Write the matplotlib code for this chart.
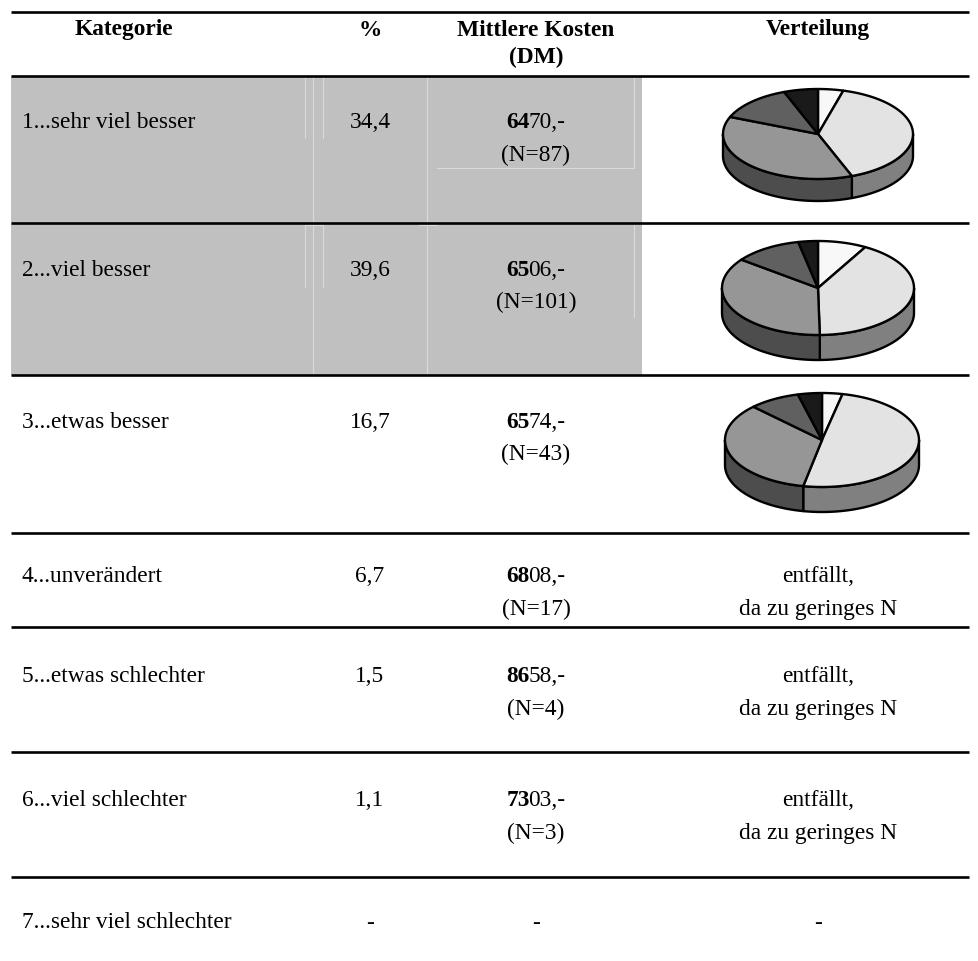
import matplotlib
matplotlib.use("Agg")
import matplotlib.pyplot as plt
import numpy as np
from matplotlib.patches import Polygon, Rectangle
from matplotlib.offsetbox import TextArea, HPacker, AnnotationBbox

plt.rcParams['font.family'] = ['Liberation Serif', 'DejaVu Serif']

# --- data ---
kategorien = ["1...sehr viel besser", "2...viel besser", "3...etwas besser",
              "4...unverändert", "5...etwas schlechter", "6...viel schlechter",
              "7...sehr viel schlechter"]
prozent = ["34,4", "39,6", "16,7", "6,7", "1,5", "1,1", "-"]
kosten = [6470, 6506, 6574, 6808, 8658, 7303, None]
anzahl = [87, 101, 43, 17, 4, 3, None]
header = ["Kategorie", "%", "Mittlere Kosten", "(DM)", "Verteilung"]

# distribution of the first three categories (shares in %)
verteilung = [
    [4.3, 39.9, 37.0, 13.0, 5.8],
    [8.2, 41.5, 35.6, 11.4, 3.3],
    [3.4, 49.7, 34.4, 8.5, 4.0],
]
top_colors = ["#f8f8f8", "#e3e3e3", "#969696", "#606060", "#1a1a1a"]
side_colors = ["#bcbcbc", "#808080", "#4d4d4d", "#333333", "#111111"]

# --- layout (pixel coordinates) ---
W, H = 979, 961
col_x = [22, 370, 536, 818]
row_lines = [12, 76, 223, 375, 533, 627, 752, 877]
row_y = [123, 270, 422, 577, 677, 801, 923]
line_gap = 32
pies = [(818, 134, 95, 45, 22), (818, 288, 96, 47, 25), (822, 440, 97, 47, 25)]
fs = 16.8

fig = plt.figure(figsize=(W / 100, H / 100), dpi=100)
ax = fig.add_axes([0, 0, 1, 1])
ax.set_xlim(0, W)
ax.set_ylim(H, 0)
ax.axis('off')

# gray background for first two rows
ax.add_patch(Rectangle((11, 76), 631, 299, facecolor="#c0c0c0", edgecolor="none", zorder=0))
faint = dict(color="#dadada", lw=0.8, zorder=1)
for top, bot in [(76, 223), (225, 375)]:
    ax.plot([305, 305], [top, top + 62], **faint)
    ax.plot([323, 323], [top, top + 62], **faint)
    ax.plot([313, 313], [top, bot], **faint)
    ax.plot([427, 427], [top, bot], **faint)
ax.plot([634, 634], [76, 168], **faint)
ax.plot([437, 634], [168, 168], **faint)
ax.plot([634, 634], [225, 317], **faint)
ax.plot([305, 323], [225, 225], **faint)
ax.plot([419, 437], [225, 225], **faint)

for y in row_lines:
    ax.plot([11, 969], [y, y], color="black", lw=1.9, solid_capstyle="butt", zorder=3)

# header
hdr = dict(ha="center", va="center", fontsize=fs, weight="bold")
ax.text(124, 30, header[0], **hdr)
ax.text(col_x[1], 30, header[1], **hdr)
ax.text(col_x[2], 30, header[2], **hdr)
ax.text(col_x[2], 57, header[3], **hdr)
ax.text(col_x[3], 30, header[4], **hdr)

# rows
for i, kat in enumerate(kategorien):
    y = row_y[i]
    ax.text(col_x[0], y, kat, ha="left", va="center", fontsize=fs)
    ax.text(col_x[1], y, prozent[i], ha="center", va="center", fontsize=fs)
    if kosten[i] is None:
        ax.text(col_x[2], y, "-", ha="center", va="center", fontsize=fs)
        ax.text(col_x[3], y, "-", ha="center", va="center", fontsize=fs)
        continue
    s = str(kosten[i])
    box = HPacker(children=[TextArea(s[:2], textprops=dict(fontsize=fs, weight="bold")),
                            TextArea(s[2:] + ",-", textprops=dict(fontsize=fs))],
                  align="baseline", pad=0, sep=-1)
    ax.add_artist(AnnotationBbox(box, (col_x[2], y), frameon=False,
                                 box_alignment=(0.5, 0.5), zorder=4))
    ax.text(col_x[2], y + line_gap, "(N=%d)" % anzahl[i], ha="center", va="center", fontsize=fs)
    if i >= len(verteilung):
        ax.text(col_x[3], y, "entfällt,", ha="center", va="center", fontsize=fs)
        ax.text(col_x[3], y + line_gap, "da zu geringes N", ha="center", va="center", fontsize=fs)


def arc(cx, cy, rx, ry, a0, a1, n=60):
    t = np.radians(np.linspace(a0, a1, n))
    return np.column_stack([cx + rx * np.sin(t), cy - ry * np.cos(t)])


# 3D pies
for (cx, cy, rx, ry, depth), fr in zip(pies, verteilung):
    angles = np.concatenate([[0], np.cumsum(fr) / np.sum(fr) * 360])
    # visible side walls (front half: 90..270 deg clockwise from top)
    for k in range(len(fr)):
        lo, hi = max(angles[k], 90), min(angles[k + 1], 270)
        if hi <= lo:
            continue
        top = arc(cx, cy, rx, ry, lo, hi)
        bot = top[::-1] + [0, depth]
        ax.add_patch(Polygon(np.vstack([top, bot]), closed=True, facecolor=side_colors[k],
                             edgecolor="black", lw=1.7, joinstyle="round", zorder=5))
    for k in range(len(fr)):
        pts = np.vstack([[cx, cy], arc(cx, cy, rx, ry, angles[k], angles[k + 1])])
        ax.add_patch(Polygon(pts, closed=True, facecolor=top_colors[k],
                             edgecolor="black", lw=1.7, joinstyle="round", zorder=6))

fig.savefig("out.png", dpi=100)
